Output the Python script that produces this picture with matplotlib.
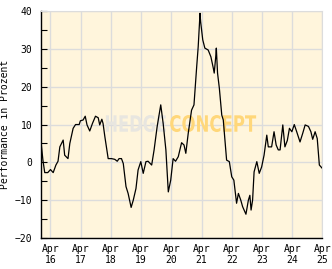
import matplotlib
matplotlib.use('Agg')
import matplotlib.pyplot as plt
from matplotlib.ticker import MultipleLocator
from matplotlib.textpath import TextPath
from matplotlib.patches import PathPatch
from matplotlib.font_manager import FontProperties
from matplotlib.transforms import Affine2D

# decimal years and performance in percent
years = [
    2015.93, 2016.00, 2016.06, 2016.16, 2016.25, 2016.34, 2016.43, 2016.50,
    2016.56, 2016.67, 2016.72, 2016.83, 2016.89, 2017.00, 2017.08, 2017.20,
    2017.24, 2017.33, 2017.40, 2017.46, 2017.55, 2017.64, 2017.74, 2017.83,
    2017.88, 2017.95, 2017.99, 2018.05, 2018.16, 2018.27, 2018.38, 2018.46,
    2018.52, 2018.60, 2018.66, 2018.75, 2018.82, 2018.92, 2018.99, 2019.08,
    2019.15, 2019.24, 2019.32, 2019.41, 2019.48, 2019.60, 2019.68, 2019.78,
    2019.90, 2019.98, 2020.07, 2020.15, 2020.23, 2020.31, 2020.39, 2020.48,
    2020.59, 2020.67, 2020.73, 2020.81, 2020.92, 2021.00, 2021.09, 2021.14,
    2021.20, 2021.22, 2021.29, 2021.36, 2021.47, 2021.56, 2021.64, 2021.67,
    2021.72, 2021.74, 2021.78, 2021.84, 2021.92, 2021.97, 2022.08, 2022.17,
    2022.25, 2022.32, 2022.41, 2022.47, 2022.55, 2022.61, 2022.72, 2022.80,
    2022.85, 2022.89, 2022.94, 2022.99, 2023.08, 2023.16, 2023.24, 2023.32,
    2023.41, 2023.46, 2023.57, 2023.65, 2023.72, 2023.79, 2023.85, 2023.94,
    2024.01, 2024.09, 2024.16, 2024.24, 2024.32, 2024.40, 2024.51, 2024.60,
    2024.68, 2024.79, 2024.87, 2024.93, 2025.01, 2025.08, 2025.15, 2025.25,
]
perf = [
    5.9, 0.6, -2.7, -2.7, -1.9, -2.7, -0.7, 0.3,
    4.1, 5.9, 1.9, 1.0, 5.0, 9.0, 10.0, 10.0,
    11.0, 11.2, 12.2, 9.9, 8.3, 10.3, 12.2, 11.8,
    9.9, 11.4, 10.3, 6.8, 1.0, 1.0, 0.8, 0.3,
    1.0, 1.0, -0.3, -6.4, -8.2, -11.9, -10.0, -6.9,
    -2.0, 0.2, -2.9, 0.2, 0.3, -0.7, 3.3, 9.4,
    15.2, 10.3, 3.3, -7.8, -4.7, 1.0, 0.3, 1.5,
    5.2, 4.6, 2.4, 7.7, 13.8, 15.2, 25.3, 30.6,
    39.4, 37.2, 32.4, 30.2, 29.7, 27.9, 24.9, 23.6,
    27.9, 30.2, 23.6, 19.6, 12.5, 11.2, 0.6, 0.2,
    -3.8, -4.7, -10.8, -8.2, -10.0, -11.7, -13.7, -10.0,
    -8.7, -12.6, -10.0, -2.5, 0.2, -2.9, -1.2, 1.9,
    7.2, 4.1, 4.1, 8.1, 4.6, 3.3, 3.3, 9.9,
    4.1, 5.8, 9.0, 8.1, 10.0, 8.1, 5.4, 7.7,
    9.9, 9.5, 8.1, 6.1, 8.1, 6.3, -0.7, -1.6,
]
tick_years = list(range(2016, 2026))
tick_labels = [f'Apr\n{y % 100}' for y in tick_years]

mono = 'DejaVu Sans Mono'


def stretched_text(ax, s, box, color):
    # squeeze a bold text path into a box given in axes fractions
    prop = FontProperties(family='DejaVu Sans', weight='bold')
    path = TextPath((0, 0), s, size=1, prop=prop)
    ext = path.get_extents()
    x0, y0, x1, y1 = box
    tr = (Affine2D()
          .translate(-ext.x0, -ext.y0)
          .scale((x1 - x0) / ext.width, (y1 - y0) / ext.height)
          .translate(x0, y0))
    patch = PathPatch(path, transform=tr + ax.transAxes, facecolor=color,
                      edgecolor='none', zorder=1.5)
    ax.add_patch(patch)


fig = plt.figure(figsize=(3.32, 2.69), dpi=100)
ax = fig.add_axes([0.122, 0.115, 0.849, 0.844])
ax.set_facecolor('#fff5dc')

ax.plot(years, perf, color='black', linewidth=0.9, zorder=3)

ax.set_xlim(2015.92, 2025.25)
ax.set_ylim(-20, 40)
ax.set_xticks([y + 0.25 for y in tick_years])
ax.set_xticklabels(tick_labels, fontfamily=mono, fontsize=7, linespacing=1.15)
ax.yaxis.set_major_locator(MultipleLocator(10))
ax.yaxis.set_minor_locator(MultipleLocator(5))
for lab in ax.get_yticklabels():
    lab.set_fontfamily(mono)
    lab.set_fontsize(7)

ax.tick_params(axis='x', length=0, pad=4)
ax.tick_params(axis='y', which='both', direction='in', length=4, width=0.8, pad=6)

ax.grid(True, which='major', color='#dcdcdc', linewidth=1.0)
ax.set_axisbelow(True)
for side in ('top', 'right'):
    ax.spines[side].set_color('#dcdcdc')
for side in ('left', 'bottom'):
    ax.spines[side].set_color('black')
    ax.spines[side].set_linewidth(1.0)

ax.set_ylabel('Performance in Prozent', fontfamily=mono, fontsize=7, labelpad=3)

# watermark
stretched_text(ax, 'HEDGE', (0.232, 0.467, 0.445, 0.542), '#e8e6e0')
stretched_text(ax, 'CONCEPT', (0.460, 0.467, 0.765, 0.542), '#ffd77a')

fig.savefig('out.png', dpi=100, facecolor='white')
